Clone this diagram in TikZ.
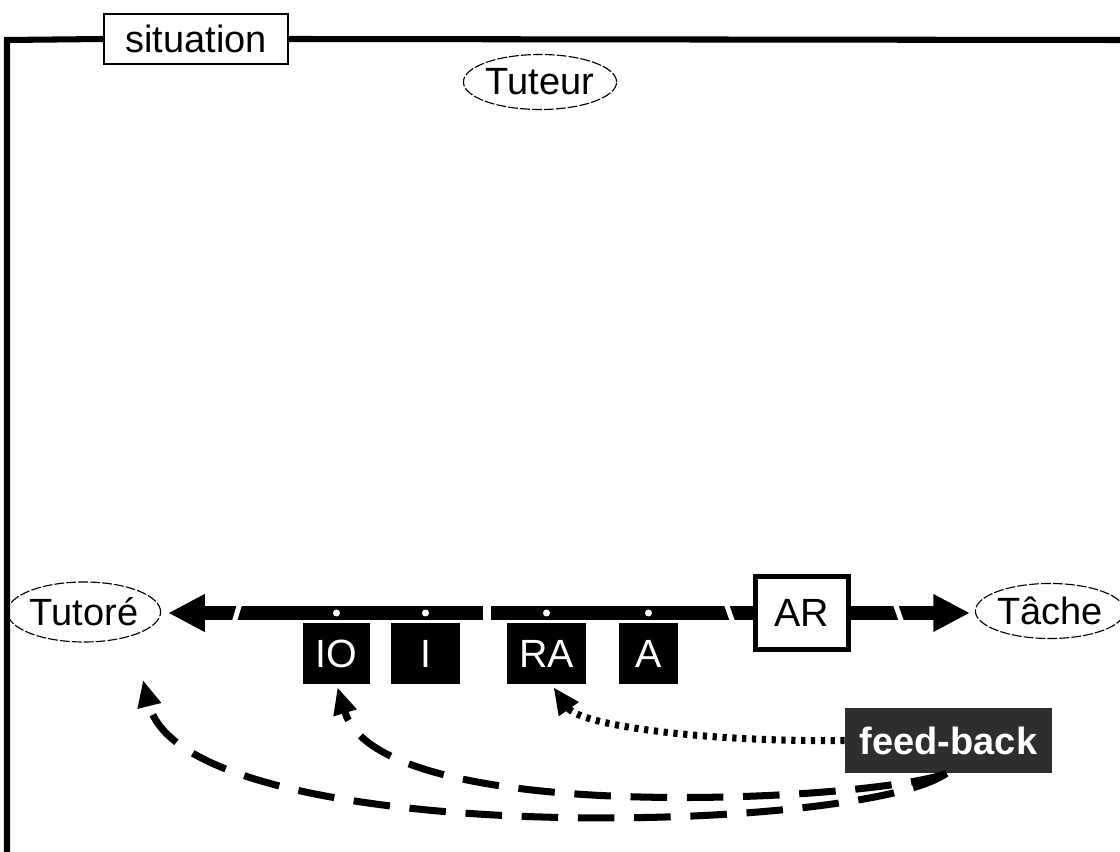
\documentclass[tikz,border=0pt]{standalone}
\usepackage{fontspec}
\setmainfont{Liberation Sans}
\usepackage{tikz}
\usetikzlibrary{arrows.meta,shapes.geometric,calc}
\definecolor{ink}{HTML}{000000}
\definecolor{fbgray}{HTML}{2E2E2E}
\tikzset{
  >={Triangle[length=19pt,width=16pt]},
  ellip/.style  ={draw=ink,ellipse,line width=0.8pt,dash pattern=on 7pt off 1.5pt,
                  inner sep=0pt,font=\fontsize{27}{30}\selectfont},
  sitbox/.style ={draw=ink,fill=white,line width=1.4pt,font=\fontsize{27}{30}\selectfont,
                  minimum width=4.6cm,minimum height=1.25cm},
  blk/.style    ={fill=ink,text=white,font=\fontsize{28}{30}\selectfont,
                  minimum height=1.525cm,inner sep=0pt},
  arbox/.style  ={draw=ink,fill=white,line width=3pt,font=\fontsize{28}{30}\selectfont,
                  minimum width=2.325cm,minimum height=1.825cm},
  fbbox/.style  ={fill=fbgray,text=white,font=\fontsize{27}{30}\selectfont\bfseries,
                  minimum width=5.175cm,minimum height=1.625cm},
  sitframe/.style={draw=ink,line width=4.3pt},
  mainbar/.style={draw=ink,line width=10pt},
  barcut/.style ={draw=white,line width=3.5pt},
  fbdash/.style ={->,draw=ink,line width=5pt,dash pattern=on 26pt off 14pt},
  fbdot/.style  ={->,draw=ink,line width=5pt,dash pattern=on 3pt off 4pt},
}
\begin{document}
\begin{tikzpicture}[x=0.025cm,y=-0.025cm]
\useasboundingbox (0,0) rectangle (1120,852);
% frame of the situation
\node[sitbox] (situation) at (196,39) {situation};
\draw[sitframe] (situation.west) -- (7,40) -- (7,852);
\draw[sitframe] (situation.east) -- (1120,40);
% actors
\node[ellip,minimum width=3.2cm,minimum height=1.375cm] (tuteur) at (540,82) {Tuteur};
\node[ellip,minimum width=3.3cm,minimum height=1.5cm] (tutore) at (84,612) {Tutoré};
\node[ellip,minimum width=3.25cm,minimum height=1.375cm] (tache) at (1050,611) {Tâche};
% main axis
\node[arbox] (ar) at (802,613) {AR};
\coordinate (barline) at (0,613);
\draw[mainbar,-{Triangle[length=26pt,width=25pt]},shorten >=5pt] (ar.west) -- (ar.west -| tutore.east);
\draw[mainbar,-{Triangle[length=26pt,width=25pt]},shorten >=3.5pt] (ar.east) -- (ar.east -| tache.west);
\draw[barcut] (234,623) -- (240,603);
\draw[barcut,line width=5pt] (487,603) -- (487,623);
\draw[barcut] (726,603) -- (733,623);
\draw[barcut] (895,603) -- (902,623);
% phases
\node[blk,minimum width=1.675cm] (io) at (336.5,653.5) {IO};
\node[blk,minimum width=1.725cm] (i)  at (425.5,653.5) {I};
\node[blk,minimum width=1.975cm] (ra) at (546.5,653.5) {RA};
\node[blk,minimum width=1.475cm] (a)  at (648.5,653.5) {A};
\foreach \b in {io,i,ra,a}
  \fill[white] (\b.north |- barline) circle (3.5);
% feed-back
\node[fbbox] (fb) at (948.5,740.5) {feed-back};
\coordinate (back) at (143,680);
\draw[fbdot] (fb.west) .. controls (700,742) and (580,725) .. ($(ra.south)+(7,3)$);
\draw[fbdash] ($(fb.south)+(-2,0)$) .. controls (880,800) and (380,830) .. ($(io.south)+(1,3)$);
\draw[fbdash] ($(fb.south)+(-2,0)$) .. controls (860,835) and (185,850) .. (back);
\end{tikzpicture}
\end{document}
